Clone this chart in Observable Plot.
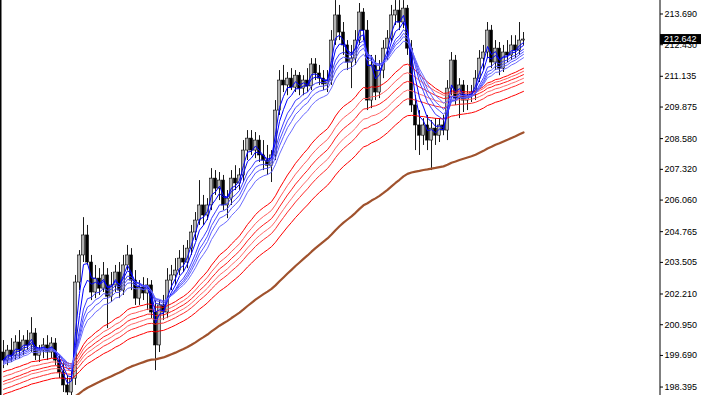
<!DOCTYPE html>
<html><head><meta charset="utf-8">
<script src="https://cdn.jsdelivr.net/npm/d3@7"></script>
<script src="https://cdn.jsdelivr.net/npm/@observablehq/plot@0.6"></script>
<style>html,body{margin:0;padding:0;background:#fff;overflow:hidden}</style>
</head><body><div id="chart"></div>
<script>
// Candles (OHLC), oldest first
const open = [199.81,199.48,199.89,199.68,200.22,199.89,200.30,200.10,200.59,199.68,
199.89,200.10,199.81,200.18,199.48,198.99,198.46,198.17,198.74,202.68,
203.79,204.61,203.50,202.27,202.84,202.43,202.97,202.10,202.56,203.09,
202.35,203.38,203.79,202.76,202.02,202.47,202.23,202.56,201.45,200.10,
201.74,201.45,202.76,202.97,203.17,203.66,203.50,204.07,204.73,205.22,
205.84,205.43,205.84,206.94,206.53,206.86,205.84,206.12,206.94,206.74,
207.07,208.09,208.58,208.09,208.50,207.89,207.68,207.47,207.89,209.73,
210.96,210.76,211.04,210.67,211.16,210.63,210.96,210.72,211.62,211.25,
211.04,210.80,210.96,212.60,213.63,212.93,212.40,211.70,211.86,212.60,
213.75,213.01,210.14,211.58,210.47,211.37,212.27,212.68,213.63,213.83,
213.34,213.91,212.27,209.94,209.12,208.70,209.12,208.50,208.99,208.70,
209.12,208.91,210.63,211.78,210.22,210.76,210.14,210.34,210.47,211.04,
211.86,212.11,213.01,211.70,212.27,211.45,212.11,211.99,212.40,212.19,
212.60];
const high = [200.30,200.10,200.38,200.50,200.71,200.50,200.71,201.24,200.79,200.10,
200.38,200.50,200.42,200.38,199.68,199.40,198.86,199.07,202.97,203.99,
205.34,205.02,203.79,203.38,203.25,203.50,203.25,203.09,203.38,203.50,
203.79,204.20,204.07,203.17,202.76,202.88,202.84,202.76,201.94,201.94,
202.15,203.25,203.38,203.66,203.99,204.20,204.40,205.02,205.55,206.86,
206.25,206.12,207.35,207.27,207.19,207.07,206.45,207.27,207.47,207.35,
208.50,208.91,208.91,208.83,208.70,208.50,208.30,208.09,210.14,211.37,
211.58,211.29,211.45,211.37,211.29,211.16,211.45,211.86,211.86,211.58,
211.37,211.37,213.01,214.24,214.04,213.34,212.60,212.40,213.01,214.12,
213.91,213.42,211.99,211.99,211.78,212.60,213.01,214.04,214.24,214.24,
214.24,214.04,212.60,210.34,209.73,209.40,209.53,209.32,209.40,209.40,
209.53,210.96,212.11,211.99,211.04,210.96,210.76,210.76,211.37,212.19,
212.40,213.34,213.22,212.60,212.52,212.40,212.60,212.80,212.80,213.34,
212.93];
const low = [199.15,199.27,199.40,199.48,199.56,199.68,199.89,199.81,199.48,199.40,
199.56,199.48,199.56,199.27,198.74,198.17,197.84,197.92,198.46,202.35,
203.50,203.38,201.94,202.02,202.15,202.27,200.79,201.86,202.27,202.02,
202.15,203.17,202.35,201.74,201.74,201.94,201.53,201.20,199.07,199.81,
201.12,201.20,202.35,202.56,202.97,203.09,203.25,203.79,204.40,205.02,
205.02,205.22,205.63,206.25,206.04,205.63,205.30,205.84,206.45,206.45,
206.78,207.68,207.89,207.76,207.60,207.27,207.07,206.78,207.68,209.53,
210.47,210.34,210.55,210.47,210.34,210.34,210.47,210.55,210.96,210.76,
210.55,210.47,210.76,212.40,212.60,211.99,211.37,210.63,211.58,212.40,
212.60,209.73,209.81,210.14,210.22,211.04,211.78,212.52,213.22,213.01,
213.09,211.99,209.65,208.09,207.89,208.30,208.09,207.27,208.30,208.42,
208.70,208.50,210.34,209.94,209.40,209.65,209.73,210.06,210.14,210.88,
211.37,211.86,211.45,211.37,211.16,211.29,211.70,211.78,211.86,211.99,
212.40];
const close = [199.48,199.89,199.68,200.22,199.89,200.30,200.10,200.59,199.68,199.89,
200.10,199.81,200.18,199.48,198.99,198.46,198.17,198.74,202.68,203.79,
204.61,203.50,202.27,202.84,202.43,202.97,202.10,202.56,203.09,202.35,
203.38,203.79,202.76,202.02,202.47,202.23,202.56,201.45,200.10,201.74,
201.45,202.76,202.97,203.17,203.66,203.50,204.07,204.73,205.22,205.84,
205.43,205.84,206.94,206.53,206.86,205.84,206.12,206.94,206.74,207.07,
208.09,208.58,208.09,208.50,207.89,207.68,207.47,207.89,209.73,210.96,
210.76,211.04,210.67,211.16,210.63,210.96,210.72,211.62,211.25,211.04,
210.80,210.96,212.60,213.63,212.93,212.40,211.70,211.86,212.60,213.75,
213.01,210.14,211.58,210.47,211.37,212.27,212.68,213.63,213.83,213.34,
213.91,212.27,209.94,209.12,208.70,209.12,208.50,208.99,208.70,209.12,
208.91,210.63,211.78,210.22,210.76,210.14,210.34,210.47,211.04,211.86,
212.11,213.01,211.70,212.27,211.45,212.11,211.99,212.40,212.19,212.60,
212.642];

// Price axis ticks and current price
const priceTicks = [213.690,212.430,211.135,209.875,208.580,207.320,206.060,204.765,203.505,202.210,200.950,199.690,198.395];
const lastPrice = 212.642;
const priceRange = [198.048, 214.243];
const barRange = [-0.75, 164];   // bar index range shown (incl. right-hand empty space)

// Moving-average ribbons (EMA periods and their values just before the first bar)
const shortPeriods = [3,5,8,10,12,15];
const shortStart = [199.55,199.50,199.45,199.40,199.35,199.30];
const longPeriods = [30,35,40,45,50,60];
const longStart = [198.99,198.78,198.58,198.46,198.25,198.05];
const trendPeriod = 100;
const trendStart = 197.2;

// styles
const shortColors = ["#0000ff","#0000ff","#3a3aff","#5050ff","#5a5aff","#6a6aff"];
const longColors = ["#ff0000","#ff5a5a","#ff1a1a","#ff6a6a","#ff2a2a","#ff0000"];
const trendColor = "#a0522d";
const fontFamily = "'Liberation Sans', Arial, sans-serif";

const candles = close.map((c, i) => ({i, o: open[i], h: high[i], l: low[i], c}));
function ema(period, start) {
  const a = 2 / (period + 1);
  let v = start;
  return close.map((c, i) => { v = a * c + (1 - a) * v; return {i, v}; });
}

const lineMarks = [];
longPeriods.forEach((p, k) => lineMarks.push(Plot.line(ema(p, longStart[k]), {x: "i", y: "v", stroke: longColors[k], strokeWidth: 1, clip: true})));
shortPeriods.forEach((p, k) => lineMarks.push(Plot.line(ema(p, shortStart[k]), {x: "i", y: "v", stroke: shortColors[k], strokeWidth: 1, clip: true})));
lineMarks.push(Plot.line(ema(trendPeriod, trendStart), {x: "i", y: "v", stroke: trendColor, strokeWidth: 2.2, clip: true}));

const plot = Plot.plot({
  width: 702, height: 395,
  marginLeft: 0, marginRight: 43, marginTop: 0, marginBottom: 0,
  x: {domain: barRange, axis: null},
  y: {domain: priceRange, axis: null},
  style: {background: "#fff", color: "#000", fontFamily, fontSize: "9px"},
  marks: [
    Plot.ruleX(candles, {x: "i", y1: "l", y2: "h", stroke: "#1a1a1a", strokeWidth: 1, clip: true}),
    Plot.rect(candles, {x1: d => d.i - 0.36, x2: d => d.i + 0.36, y1: "o", y2: "c",
      fill: d => d.c >= d.o ? "#b4b4b4" : "#000", stroke: "#000", strokeWidth: 0.6, clip: true}),
    ...lineMarks,
    Plot.ruleX([barRange[0]], {stroke: "#000", strokeWidth: 2}),
    Plot.ruleX([barRange[1]], {stroke: "#000", strokeWidth: 1, dx: 0.5}),
    Plot.axisY({anchor: "right", ticks: priceTicks, tickFormat: d3.format(".3f"), tickSize: 3, tickPadding: 2, fontSize: 9})
  ]
});
document.getElementById("chart").appendChild(plot);

// current price tag on the axis
const ys = plot.scale("y");
const xs = plot.scale("x");
const yy = ys.apply(lastPrice);
const xa = xs.apply(barRange[1]) + 1;
const svg = d3.select(plot);
svg.append("rect").attr("x", xa).attr("y", yy - 5).attr("width", 702 - xa - 1).attr("height", 10).attr("fill", "#000");
svg.append("text").attr("x", xa + 4).attr("y", yy).attr("dy", "0.34em").attr("fill", "#fff")
  .attr("text-anchor", "start").attr("font-size", 9).attr("font-family", fontFamily)
  .text(d3.format(".3f")(lastPrice));
</script>
</body></html>
